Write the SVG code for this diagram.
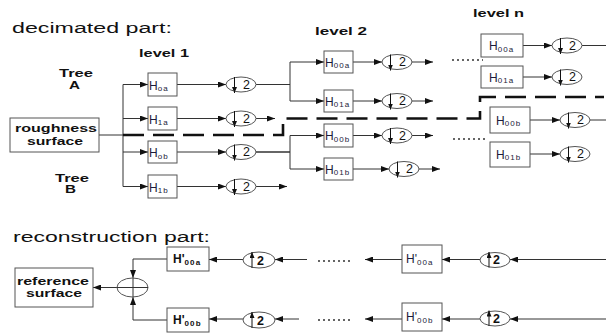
<svg xmlns="http://www.w3.org/2000/svg" width="606" height="333" viewBox="0 0 606 333">
<style>
.bx{fill:#fff;stroke:#555;stroke-width:1}
.ln{fill:none;stroke:#333;stroke-width:1}
.ar{fill:none;stroke:#333;stroke-width:1;marker-end:url(#ah)}
.el{fill:#fff;stroke:#555;stroke-width:1}
.ia{fill:none;stroke:#111;stroke-width:1;marker-end:url(#sh)}
.tt{font-family:"Liberation Sans",Arial,sans-serif;font-size:15.5px;fill:#111}
.bl{font-family:"Liberation Sans",Arial,sans-serif;font-size:10.5px;font-weight:bold;fill:#111}
.h{font-family:"Liberation Sans",Arial,sans-serif;font-size:12px;fill:#1b1b3a}
.s{font-size:8px;letter-spacing:1.1px}
.hb{font-family:"Liberation Sans",Arial,sans-serif;font-size:12px;font-weight:bold;fill:#111}
.two{font-family:"Liberation Sans",Arial,sans-serif;font-size:12.5px;fill:#111}
.twob{font-family:"Liberation Sans",Arial,sans-serif;font-size:12.5px;font-weight:bold;fill:#111}
.dot{fill:none;stroke:#333;stroke-width:1.3;stroke-dasharray:2 3}
</style>
<defs>
<marker id="ah" markerUnits="userSpaceOnUse" markerWidth="8" markerHeight="6" refX="8" refY="3" orient="auto"><path d="M0,0 L8,3 L0,6 z" fill="#111"/></marker>
<marker id="sh" markerUnits="userSpaceOnUse" markerWidth="6" markerHeight="5" refX="6" refY="2.5" orient="auto"><path d="M0,0 L6,2.5 L0,5 z" fill="#111"/></marker>
</defs>
<rect width="606" height="333" fill="#fff"/>

<text class="tt" x="12" y="33" textLength="160" lengthAdjust="spacingAndGlyphs">decimated part:</text>
<text class="tt" x="13" y="242" textLength="197" lengthAdjust="spacingAndGlyphs">reconstruction part:</text>
<text class="bl" x="139" y="57" textLength="50" lengthAdjust="spacingAndGlyphs">level  1</text>
<text class="bl" x="315" y="35" textLength="52" lengthAdjust="spacingAndGlyphs">level  2</text>
<text class="bl" x="473" y="17" textLength="51" lengthAdjust="spacingAndGlyphs">level  n</text>
<text class="bl" x="59" y="77" textLength="34" lengthAdjust="spacingAndGlyphs">Tree</text>
<text class="bl" x="69" y="89" textLength="11" lengthAdjust="spacingAndGlyphs">A</text>
<text class="bl" x="55" y="182" textLength="34" lengthAdjust="spacingAndGlyphs">Tree</text>
<text class="bl" x="65" y="193" textLength="11" lengthAdjust="spacingAndGlyphs">B</text>

<g id="connectors">
<path class="ln" d="M99,135 H123 M123,84.5 V186.5"/>
<path class="ar" d="M123,84.5 H148"/>
<path class="ar" d="M123,118.5 H148"/>
<path class="ar" d="M123,152 H148"/>
<path class="ar" d="M123,186.5 H148"/>
<path class="ar" d="M177,84.5 H226"/>
<path class="ar" d="M177,118.5 H226"/>
<path class="ar" d="M177,152 H226"/>
<path class="ar" d="M177,186.5 H226"/>
<path class="ln" d="M256,84.5 H290 M290,62 V101"/>
<path class="ar" d="M256,118.5 H275"/>
<path class="ln" d="M256,152 H290" style="stroke-width:1.6"/>
<path class="ln" d="M290,135.5 V169"/>
<path class="ar" d="M256,186.5 H287"/>
<path class="ar" d="M290,62 H324"/>
<path class="ar" d="M290,101 H324"/>
<path class="ar" d="M290,135.5 H324"/>
<path class="ar" d="M290,169 H324"/>
<path class="ar" d="M353,62 H382"/>
<path class="ar" d="M353,101 H382"/>
<path class="ar" d="M353,135.5 H382"/>
<path class="ar" d="M353,169 H389"/>
<path class="ar" d="M412,62 H433"/>
<path class="ar" d="M412,101 H433"/>
<path class="ar" d="M412,135.5 H433"/>
<path class="ar" d="M419,169 H440"/>
<line class="dot" x1="452" y1="60" x2="483" y2="60"/>
<line class="dot" x1="453" y1="139" x2="485" y2="139"/>
<path class="ar" d="M523,45.5 H552"/>
<path class="ar" d="M523,77 H552"/>
<path class="ar" d="M530,120 H560"/>
<path class="ar" d="M530,154 H560"/>
<path class="ln" d="M582,45.5 H606"/>
<path class="ln" d="M590,120 H606"/>
<path d="M123,135 H283 V118.5 H480 V97 H604" fill="none" stroke="#111" stroke-width="2.6" stroke-dasharray="21 9"/>
<path class="ar" d="M606,259.5 H510"/>
<path class="ar" d="M480,259.5 H442"/>
<path class="ar" d="M402,259.5 H365"/>
<line class="dot" x1="318" y1="261" x2="351" y2="261"/>
<path class="ar" d="M307,259.5 H275"/>
<path class="ar" d="M243,259.5 H209"/>
<path class="ar" d="M167,259 H133 V278"/>
<path class="ar" d="M606,319 H510"/>
<path class="ar" d="M480,319 H442"/>
<path class="ar" d="M402,319 H365"/>
<line class="dot" x1="318" y1="320" x2="350" y2="320"/>
<path class="ar" d="M299,319 H275"/>
<path class="ar" d="M243,319 H209"/>
<path class="ar" d="M167,320 H133 V297"/>
<path class="ar" d="M117,287.5 H93"/>
</g>

<g id="roughness">
<rect class="bx" x="10" y="118" width="89" height="34"/>
<text class="bl" x="15" y="132" textLength="82" lengthAdjust="spacingAndGlyphs">roughness</text>
<text class="bl" x="27" y="145" textLength="56" lengthAdjust="spacingAndGlyphs">surface</text>
</g>

<g id="l1-h0a"><rect class="bx" x="148" y="73" width="29" height="23"/><text class="h" x="149" y="89.5">H<tspan class="s" dy="1.5">oa</tspan></text></g>
<g id="l1-h1a"><rect class="bx" x="148" y="107" width="29" height="23"/><text class="h" x="149" y="123.5">H<tspan class="s" dy="1.5">1a</tspan></text></g>
<g id="l1-h0b"><rect class="bx" x="148" y="141" width="29" height="22"/><text class="h" x="149" y="157">H<tspan class="s" dy="1.5">ob</tspan></text></g>
<g id="l1-h1b"><rect class="bx" x="148" y="175" width="29" height="23"/><text class="h" x="149" y="191.5">H<tspan class="s" dy="1.5">1b</tspan></text></g>

<g id="l1-d0a"><ellipse class="el" cx="241" cy="84.5" rx="15" ry="7.5"/><path class="ia" d="M234.5,77 V93"/><text class="two" x="243" y="88.5">2</text></g>
<g id="l1-d1a"><ellipse class="el" cx="241" cy="118.5" rx="15" ry="7.5"/><path class="ia" d="M234.5,111 V127"/><text class="two" x="243" y="122.5">2</text></g>
<g id="l1-d0b"><ellipse class="el" cx="241" cy="152" rx="15" ry="7.5"/><path class="ia" d="M234.5,144.5 V160.5"/><text class="two" x="243" y="156">2</text></g>
<g id="l1-d1b"><ellipse class="el" cx="241" cy="186.5" rx="15" ry="7.5"/><path class="ia" d="M234.5,179 V195"/><text class="two" x="243" y="190.5">2</text></g>

<g id="l2-h00a"><rect class="bx" x="324" y="51" width="29" height="22"/><text class="h" x="325" y="66.5">H<tspan class="s" dy="1.5">00a</tspan></text></g>
<g id="l2-h01a"><rect class="bx" x="324" y="90" width="29" height="22"/><text class="h" x="325" y="105.5">H<tspan class="s" dy="1.5">01a</tspan></text></g>
<g id="l2-h00b"><rect class="bx" x="324" y="124" width="29" height="23"/><text class="h" x="325" y="140">H<tspan class="s" dy="1.5">00b</tspan></text></g>
<g id="l2-h01b"><rect class="bx" x="324" y="158" width="29" height="22"/><text class="h" x="325" y="173.5">H<tspan class="s" dy="1.5">01b</tspan></text></g>

<g id="l2-d00a"><ellipse class="el" cx="397" cy="62" rx="15" ry="7.5"/><path class="ia" d="M390.5,54.5 V70.5"/><text class="two" x="399" y="66">2</text></g>
<g id="l2-d01a"><ellipse class="el" cx="397" cy="101" rx="15" ry="7.5"/><path class="ia" d="M390.5,93.5 V109.5"/><text class="two" x="399" y="105">2</text></g>
<g id="l2-d00b"><ellipse class="el" cx="397" cy="135.5" rx="15" ry="7.5"/><path class="ia" d="M390.5,128 V144"/><text class="two" x="399" y="139.5">2</text></g>
<g id="l2-d01b"><ellipse class="el" cx="404" cy="169" rx="15" ry="7.5"/><path class="ia" d="M397.5,161.5 V177.5"/><text class="two" x="406" y="173">2</text></g>

<g id="ln-h00a"><rect class="bx" x="481" y="34" width="42" height="23"/><text class="h" x="489" y="50">H<tspan class="s" dy="1.5">00a</tspan></text></g>
<g id="ln-h01a"><rect class="bx" x="481" y="66" width="42" height="22"/><text class="h" x="489" y="81.5">H<tspan class="s" dy="1.5">01a</tspan></text></g>
<g id="ln-h00b"><rect class="bx" x="490" y="107" width="40" height="26"/><text class="h" x="496" y="124.5">H<tspan class="s" dy="1.5">00b</tspan></text></g>
<g id="ln-h01b"><rect class="bx" x="490" y="142" width="40" height="25"/><text class="h" x="496" y="158.5">H<tspan class="s" dy="1.5">01b</tspan></text></g>

<g id="ln-d00a"><ellipse class="el" cx="567" cy="45.5" rx="15" ry="7.5"/><path class="ia" d="M560.5,38 V54"/><text class="two" x="569" y="49.5">2</text></g>
<g id="ln-d01a"><ellipse class="el" cx="567" cy="77" rx="15" ry="7.5"/><path class="ia" d="M560.5,69.5 V85.5"/><text class="two" x="569" y="81">2</text></g>
<g id="ln-d00b"><ellipse class="el" cx="575" cy="120" rx="15" ry="7.5"/><path class="ia" d="M568.5,112.5 V128.5"/><text class="two" x="577" y="124">2</text></g>
<g id="ln-d01b"><ellipse class="el" cx="575" cy="154" rx="15" ry="7.5"/><path class="ia" d="M568.5,146.5 V162.5"/><text class="two" x="577" y="158">2</text></g>

<g id="reference">
<rect class="bx" x="15" y="268" width="78" height="39"/>
<text class="bl" x="17" y="285" textLength="72" lengthAdjust="spacingAndGlyphs">reference</text>
<text class="bl" x="26" y="297" textLength="56" lengthAdjust="spacingAndGlyphs">surface</text>
</g>

<g id="sum"><ellipse class="el" cx="132.5" cy="287.5" rx="15.5" ry="9.5"/><path class="ln" d="M117,287.5 H148 M133,278 V297"/></g>

<g id="r-h00a-1"><rect class="bx" x="167" y="247" width="42" height="24"/><text class="hb" x="173" y="263">H'<tspan class="s" dy="1.5">00a</tspan></text></g>
<g id="r-h00b-1"><rect class="bx" x="167" y="308" width="42" height="24"/><text class="hb" x="173" y="324">H'<tspan class="s" dy="1.5">00b</tspan></text></g>
<g id="r-u00a-1"><ellipse class="el" cx="259" cy="260" rx="16" ry="8"/><path class="ia" d="M252,268 V252"/><text class="twob" x="257" y="264.5">2</text></g>
<g id="r-u00b-1"><ellipse class="el" cx="259" cy="320" rx="16" ry="8"/><path class="ia" d="M252,328 V312"/><text class="twob" x="257" y="324.5">2</text></g>

<g id="r-h00a-n"><rect class="bx" x="402" y="245" width="40" height="28"/><text class="h" x="406" y="263">H'<tspan class="s" dy="1.5">00a</tspan></text></g>
<g id="r-h00b-n"><rect class="bx" x="402" y="303" width="40" height="28"/><text class="h" x="406" y="321">H'<tspan class="s" dy="1.5">00b</tspan></text></g>
<g id="r-u00a-n"><ellipse class="el" cx="495" cy="260" rx="15" ry="7.5"/><path class="ia" d="M489,267.5 V252"/><text class="twob" x="493" y="264">2</text></g>
<g id="r-u00b-n"><ellipse class="el" cx="495" cy="318.5" rx="15" ry="7.5"/><path class="ia" d="M489,326 V310.5"/><text class="twob" x="493" y="322.5">2</text></g>
</svg>
